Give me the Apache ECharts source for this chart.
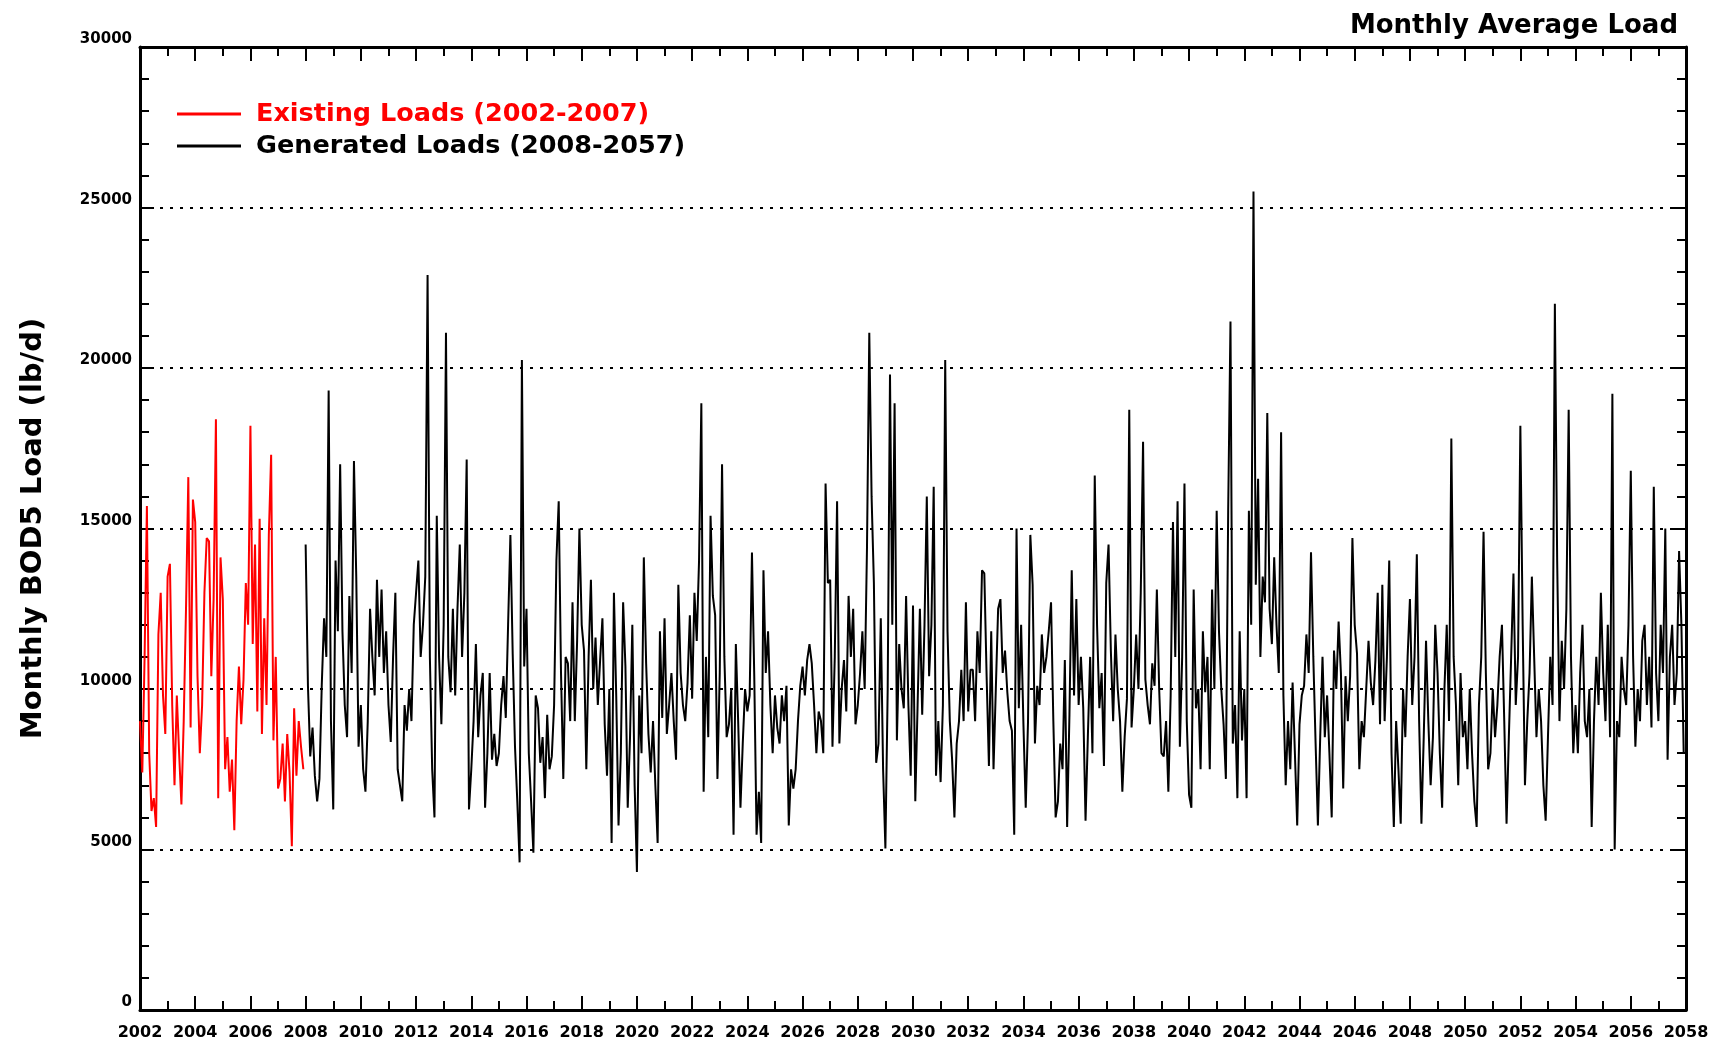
<!DOCTYPE html>
<html>
<head>
<meta charset="utf-8">
<script src="https://cdn.jsdelivr.net/npm/echarts@6/dist/echarts.min.js"></script>
<style>
html,body{margin:0;padding:0;background:#fff;}
#chart{width:1735px;height:1047px;}
</style>
</head>
<body>
<div id="chart"></div>
<script>
// ---- data (monthly values, lb/d) ----
const existingStartYear = 2002;
const generatedStartYear = 2008;
const existingLoads = [
  9000, 7400, 11000, 15700, 8000, 6200, 6600, 5700, 11700, 13000, 9800, 8600,
  13500, 13900, 9500, 7000, 9800, 8000, 6400, 9000, 12500, 16600, 8800, 15900,
  15200, 10400, 8000, 9500, 13000, 14700, 14600, 10400, 12800, 18400, 6600, 14100,
  12800, 7500, 8500, 6800, 7800, 5600, 9000, 10700, 8900, 10300, 13300, 12000,
  18200, 11400, 14500, 9300, 15300, 8600, 12200, 9500, 14800, 17300, 8400, 11000,
  6900, 7200, 8300, 6500, 8600, 7400, 5100, 9400, 7300, 9000, 8200, 7500
];
const generatedLoads = [
  14500, 10100, 7900, 8800, 7300, 6500, 7200, 10100, 12200, 11000, 19300, 9000,
  6250, 14000, 11800, 17000, 11800, 9500, 8500, 12900, 10500, 17100, 13500, 8200,
  9500, 7500, 6800, 9000, 12500, 11000, 9800, 13400, 11000, 13100, 10500, 11800,
  9500, 8350, 11000, 13000, 7500, 7000, 6500, 9500, 8700, 10000, 9000, 12000,
  13000, 14000, 11000, 12000, 13500, 22900, 11000, 7500, 6000, 15400, 11000, 8900,
  12000, 21100, 11000, 9900, 12500, 9800, 12500, 14500, 11000, 13000, 17150, 6250,
  7500, 9000, 11400, 8500, 9800, 10500, 6300, 8000, 10500, 7800, 8600, 7600,
  8000, 9500, 10400, 9100, 12000, 14800, 11100, 8200, 6500, 4600, 20250, 10700,
  12500, 8000, 6500, 4900, 9800, 9400, 7700, 8500, 6600, 9200, 7500, 7900,
  9500, 14000, 15850, 10500, 7200, 11000, 10800, 9000, 12700, 9000, 11500, 15000,
  12000, 11200, 7500, 11000, 13400, 10000, 11600, 9500, 10900, 12200, 8900, 7300,
  10000, 5200, 13000, 9800, 5750, 8000, 12700, 10700, 6300, 8500, 12000, 7000,
  4300, 9800, 8000, 14100, 10800, 8600, 7400, 9000, 7000, 5200, 11800, 9100,
  12200, 8600, 9500, 10500, 9000, 7800, 13250, 10500, 9500, 9000, 10200, 12300,
  9700, 13000, 11500, 14000, 18900, 6800, 11000, 8500, 15400, 12900, 12300, 7200,
  10500, 17000, 11000, 8500, 8900, 10000, 5460, 11400, 9000, 6300, 8300, 10000,
  9300, 9800, 14250, 10400, 5460, 6800, 5200, 13700, 10500, 11800, 9500, 8000,
  9800, 8800, 8300, 9800, 9000, 10100, 5750, 7500, 6900, 7500, 9000, 10100,
  10700, 9800, 10900, 11400, 10800, 9500, 8000, 9300, 9000, 8000, 16400, 13300,
  13400, 8200, 11000, 15850, 8300, 10000, 10900, 9300, 12900, 11000, 12500, 8900,
  9500, 10500, 11800, 10000, 14400, 21100, 16000, 13300, 7700, 8300, 12200, 7500,
  5030, 10000, 19800, 12000, 18900, 8400, 11400, 10000, 9400, 12900, 9500, 7300,
  12600, 6500, 9500, 12500, 9200, 12000, 16000, 10400, 12000, 16300, 7300, 9000,
  7100, 9500, 20250, 11800, 9000, 7800, 6000, 8300, 9000, 10600, 9000, 12700,
  9300, 10600, 10600, 9000, 11800, 10500, 13700, 13600, 10400, 7600, 11800, 7500,
  10000, 12500, 12800, 10500, 11200, 9900, 9000, 8700, 5460, 15000, 9400, 12000,
  8900, 6300, 9000, 14800, 13250, 8300, 10100, 9500, 11700, 10500, 11000, 11800,
  12700, 9000, 6000, 6500, 8300, 7500, 10900, 5700, 9200, 13700, 9800, 12800,
  9500, 11000, 9400, 5900, 8500, 11000, 8000, 16650, 12000, 9400, 10500, 7600,
  13300, 14500, 11200, 9000, 11700, 10000, 9000, 6800, 8500, 9700, 18700, 8800,
  10000, 11700, 10000, 13000, 17700, 10300, 9500, 8900, 10800, 10100, 13100, 10000,
  8000, 7900, 9000, 6800, 9800, 15200, 11000, 15850, 8200, 11000, 16400, 9000,
  6700, 6300, 13100, 9400, 10000, 7500, 11800, 9900, 11000, 7500, 13100, 10000,
  15550, 11800, 10000, 8900, 7200, 15550, 21450, 8300, 9500, 6600, 11800, 8400,
  10000, 6600, 15550, 12000, 25500, 13250, 16550, 11000, 13500, 12700, 18600, 12500,
  11400, 14100, 12000, 10500, 18000, 9800, 7000, 9000, 7500, 10200, 8000, 5750,
  8900, 9800, 10100, 11700, 10500, 14260, 11000, 8300, 5750, 8500, 11000, 8500,
  9800, 8000, 6000, 11200, 10000, 12100, 10500, 6900, 10400, 9000, 10400, 14700,
  12000, 11100, 7500, 9000, 8500, 10000, 11500, 10200, 9500, 10900, 13000, 8900,
  13250, 9000, 11000, 14000, 8000, 5700, 9000, 7500, 5800, 10000, 8500, 11000,
  12800, 9500, 11000, 14200, 9000, 5800, 8500, 11500, 9000, 7000, 8500, 12000,
  10500, 8000, 6300, 10000, 12000, 9000, 17800, 11000, 9500, 7000, 10500, 8500,
  9000, 7500, 10000, 8000, 6500, 5700, 9500, 11000, 14900, 10500, 7500, 8000,
  10000, 8500, 9500, 11000, 12000, 9000, 5800, 8500, 11000, 13600, 9500, 11000,
  18200, 12000, 7000, 9000, 10500, 13500, 11000, 8500, 10000, 9000, 7000, 5900,
  8500, 11000, 9500, 22000, 14000, 9000, 11500, 10000, 12500, 18700, 11000, 8000,
  9500, 8000, 10500, 12000, 9000, 8500, 10000, 5700, 9000, 11000, 9500, 13000,
  10500, 9000, 12000, 8500, 19200, 5000, 9000, 8500, 11000, 10000, 9500, 12000,
  16800, 11000, 8200, 10000, 9000, 11500, 12000, 9500, 11000, 8800, 16300, 10500,
  9000, 12000, 10500, 15000, 7800, 11000, 12000, 9500, 10500, 14300, 12000, 8000
];
const yTicks = [0, 5000, 10000, 15000, 20000, 25000, 30000];
const xLabelYears = [2002, 2058];

const existingData = existingLoads.map((v, i) => [existingStartYear + i / 12, v]);
const generatedData = generatedLoads.map((v, i) => [generatedStartYear + i / 12, v]);

const chart = echarts.init(document.getElementById('chart'), null, {renderer: 'canvas'});
const tickFont = {fontFamily: 'DejaVu Sans', fontWeight: 'bold', color: '#000'};

const xAxisCommon = {
  type: 'value', min: xLabelYears[0], max: xLabelYears[1], interval: 2,
  axisLine: {show: true, onZero: false, lineStyle: {color: '#000', width: 3}},
  axisTick: {show: true, inside: true, length: 14, lineStyle: {color: '#000', width: 2}},
  minorTick: {show: true, splitNumber: 2, length: 9, lineStyle: {color: '#000', width: 2}},
  splitLine: {show: false}
};
const yAxisCommon = {
  type: 'value', min: yTicks[0], max: yTicks[yTicks.length - 1], interval: 5000,
  axisLine: {show: true, onZero: false, lineStyle: {color: '#000', width: 3}},
  axisTick: {show: true, inside: true, length: 14, lineStyle: {color: '#000', width: 2}},
  minorTick: {show: true, splitNumber: 5, length: 9, lineStyle: {color: '#000', width: 2}}
};

chart.setOption({
  animation: false,
  backgroundColor: '#fff',
  title: {
    text: 'Monthly Average Load', right: 52, top: 8,
    textStyle: {fontFamily: 'DejaVu Sans', fontSize: 26, fontWeight: 'bold', color: '#000'}
  },
  legend: {
    orient: 'vertical', left: 172, top: 96, itemWidth: 64, itemHeight: 3, itemGap: 6,
    icon: 'rect',
    textStyle: {fontFamily: 'DejaVu Sans', fontSize: 25.5, fontWeight: 'bold', padding: [0, 0, 0, 10]},
    data: [
      {name: 'Existing Loads (2002-2007)', textStyle: {color: '#ff0000'}, itemStyle: {color: '#ff0000'}},
      {name: 'Generated Loads (2008-2057)', textStyle: {color: '#000'}, itemStyle: {color: '#000'}}
    ]
  },
  grid: {left: 140, right: 49, top: 47, bottom: 37, containLabel: false},
  xAxis: [
    Object.assign({}, xAxisCommon, {
      position: 'bottom',
      axisLabel: Object.assign({}, tickFont, {fontSize: 16, margin: 15, formatter: v => String(Math.round(v))})
    }),
    Object.assign({}, xAxisCommon, {position: 'top', axisLabel: {show: false}})
  ],
  yAxis: [
    Object.assign({}, yAxisCommon, {
      position: 'left',
      name: 'Monthly BOD5 Load (lb/d)', nameLocation: 'middle', nameGap: 92, nameRotate: 90,
      nameTextStyle: {fontFamily: 'DejaVu Sans', fontSize: 29, fontWeight: 'bold', color: '#000'},
      axisLabel: Object.assign({}, tickFont, {fontSize: 15, margin: 8, verticalAlign: 'bottom', formatter: v => String(v)}),
      splitLine: {show: true, lineStyle: {color: '#000', width: 2, type: [3, 7]}}
    }),
    Object.assign({}, yAxisCommon, {position: 'right', axisLabel: {show: false}, splitLine: {show: false}})
  ],
  series: [
    {
      name: 'Existing Loads (2002-2007)', type: 'line', data: existingData,
      symbol: 'none', lineStyle: {color: '#ff0000', width: 2}, itemStyle: {color: '#ff0000'}
    },
    {
      name: 'Generated Loads (2008-2057)', type: 'line', data: generatedData,
      symbol: 'none', lineStyle: {color: '#000', width: 2}, itemStyle: {color: '#000'}
    }
  ]
});
</script>
</body>
</html>
